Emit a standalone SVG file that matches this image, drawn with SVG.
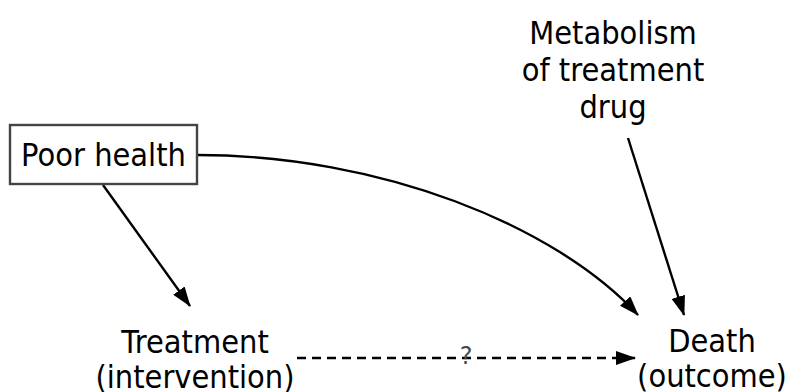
<svg xmlns="http://www.w3.org/2000/svg" width="791" height="392" viewBox="0 0 791 392">
<style>
  text { font-family: "DejaVu Sans", "Liberation Sans", sans-serif; font-size: 29px; fill: #000; text-anchor: middle; }
  text.q { font-size: 24px; fill: #4a4a4a; }
  .edge { fill: none; stroke: #000; stroke-width: 2.4; marker-end: url(#arrow); }
  .dashed { stroke-dasharray: 9 6; }
  .box { fill: #fff; stroke: #444; stroke-width: 2.4; }
</style>
<defs>
  <marker id="arrow" viewBox="0 0 20 14" refX="19" refY="7" markerWidth="20" markerHeight="14" markerUnits="userSpaceOnUse" orient="auto">
    <path d="M0,0 L20,7 L0,14 z" fill="#000"/>
  </marker>
</defs>
<rect width="791" height="392" fill="#fff"/>
<g id="edges">
  <path class="edge" d="M103,185 L190,306"/>
  <path class="edge" d="M197,155 C380,155 555,225 638,315"/>
  <path class="edge" d="M628,138 L684,315"/>
  <path class="edge dashed" d="M297,358 L635,358"/>
</g>
<g id="edge-label">
  <text class="q" x="466" y="364">?</text>
</g>
<g id="poor-health">
  <rect class="box" x="10" y="125" width="187" height="59"/>
  <text transform="translate(103.5,165.5) scale(1,1.1)">Poor health</text>
</g>
<g id="metabolism">
  <text transform="translate(613,44) scale(1,1.1)">Metabolism</text>
  <text transform="translate(613,81) scale(1,1.1)">of treatment</text>
  <text transform="translate(613,118) scale(1,1.1)">drug</text>
</g>
<g id="treatment">
  <text transform="translate(195,353) scale(1,1.1)">Treatment</text>
  <text transform="translate(195,388) scale(1,1.1)">(intervention)</text>
</g>
<g id="death">
  <text transform="translate(712,352) scale(1,1.1)">Death</text>
  <text transform="translate(712,387) scale(1,1.1)">(outcome)</text>
</g>
</svg>
